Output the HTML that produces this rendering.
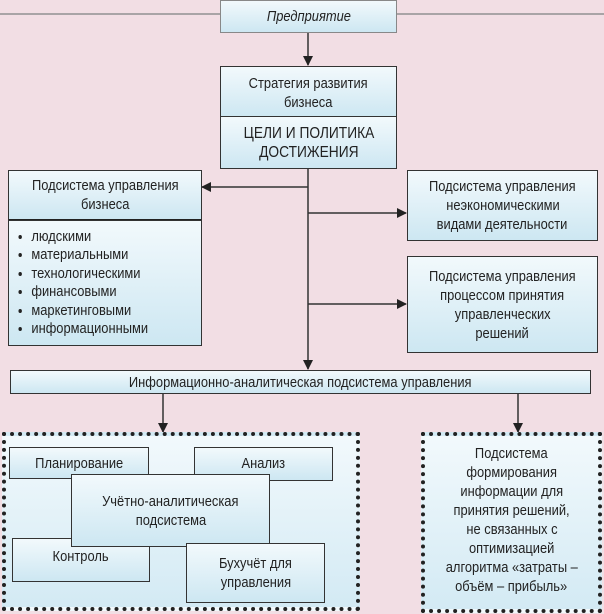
<!DOCTYPE html>
<html><head><meta charset="utf-8"><style>
body{margin:0;width:604px;height:614px;background:#f2dee4;position:relative;overflow:hidden;font-family:"Liberation Sans Narrow","Liberation Sans",sans-serif;font-size:15px;color:#222}
.b{position:absolute;box-sizing:border-box;border:1.5px solid #333;background:linear-gradient(#f2f9fc,#cde7f2);text-align:center;line-height:19px;display:flex;flex-direction:column;justify-content:center;align-items:center}
.d{position:absolute;box-sizing:border-box;border:4px dotted #222;background:linear-gradient(#f2f9fc,#d3eaf4)}
.t{display:inline-block;transform:scaleX(.86);white-space:nowrap}
svg{position:absolute;left:0;top:0}
ul{margin:0;padding:0 0 0 26px;text-align:left;list-style:disc;line-height:18.5px;transform:scaleX(.86);transform-origin:left}
</style></head><body>
<svg width="604" height="614">
<defs><marker id="a" markerWidth="10" markerHeight="10" refX="9" refY="5" orient="auto" markerUnits="userSpaceOnUse"><path d="M0,0 L10,5 L0,10 z" fill="#222"/></marker></defs>
<line x1="0" y1="14" x2="604" y2="14" stroke="#a9a4a6" stroke-width="2"/>
<g stroke="#333" stroke-width="1.5" fill="none">
<line x1="308" y1="32" x2="308" y2="65" marker-end="url(#a)"/>
<line x1="308" y1="168" x2="308" y2="369" marker-end="url(#a)"/>
<line x1="308" y1="187" x2="202" y2="187" marker-end="url(#a)"/>
<line x1="308" y1="213" x2="406" y2="213" marker-end="url(#a)"/>
<line x1="308" y1="304" x2="406" y2="304" marker-end="url(#a)"/>
<line x1="163" y1="393" x2="163" y2="432" marker-end="url(#a)"/>
<line x1="518" y1="393" x2="518" y2="432" marker-end="url(#a)"/>
</g></svg>
<div class="b" style="left:220px;top:0;width:177px;height:33px;font-style:italic;border-color:#888"><span class="t">Предприятие</span></div>
<div class="b" style="left:220px;top:66px;width:177px;height:52px;padding-top:2px"><span class="t">Стратегия развития</span><span class="t">бизнеса</span></div>
<div class="b" style="left:220px;top:116px;width:177px;height:53px;font-size:16px"><span class="t">ЦЕЛИ И ПОЛИТИКА</span><span class="t">ДОСТИЖЕНИЯ</span></div>
<div class="b" style="left:8px;top:170px;width:194px;height:52px;border-bottom:3px solid #222"><span class="t">Подсистема управления</span><span class="t">бизнеса</span></div>
<div class="b" style="left:8px;top:220px;width:194px;height:126px;align-items:flex-start"><ul><li>людскими</li><li>материальными</li><li>технологическими</li><li>финансовыми</li><li>маркетинговыми</li><li>информационными</li></ul></div>
<div class="b" style="left:407px;top:170px;width:191px;height:71px"><span class="t">Подсистема управления</span><span class="t">неэкономическими</span><span class="t">видами деятельности</span></div>
<div class="b" style="left:407px;top:256px;width:191px;height:97px"><span class="t">Подсистема управления</span><span class="t">процессом принятия</span><span class="t">управленческих</span><span class="t">решений</span></div>
<div class="b" style="left:10px;top:370px;width:581px;height:24px"><span class="t">Информационно-аналитическая подсистема управления</span></div>
<div class="d" style="left:2px;top:432px;width:358px;height:179px"></div>
<div class="d" style="left:421px;top:432px;width:181px;height:181px"></div>
<div class="b" style="left:9px;top:447px;width:140px;height:32px;justify-content:flex-start;padding-top:6px"><span class="t">Планирование</span></div>
<div class="b" style="left:194px;top:447px;width:139px;height:34px;justify-content:flex-start;padding-top:6px"><span class="t">Анализ</span></div>
<div class="b" style="left:12px;top:538px;width:138px;height:44px;justify-content:flex-start;padding-top:8px"><span class="t">Контроль</span></div>
<div class="b" style="left:71px;top:474px;width:199px;height:73px"><span class="t">Учётно-аналитическая</span><span class="t">подсистема</span></div>
<div class="b" style="left:186px;top:543px;width:139px;height:60px"><span class="t">Бухучёт для</span><span class="t">управления</span></div>
<div style="position:absolute;left:425px;top:444px;width:173px;text-align:center;line-height:19px;display:flex;flex-direction:column;align-items:center"><span class="t">Подсистема</span><span class="t">формирования</span><span class="t">информации для</span><span class="t">принятия решений,</span><span class="t">не связанных с</span><span class="t">оптимизацией</span><span class="t">алгоритма «затраты –</span><span class="t">объём – прибыль»</span></div>
</body></html>
